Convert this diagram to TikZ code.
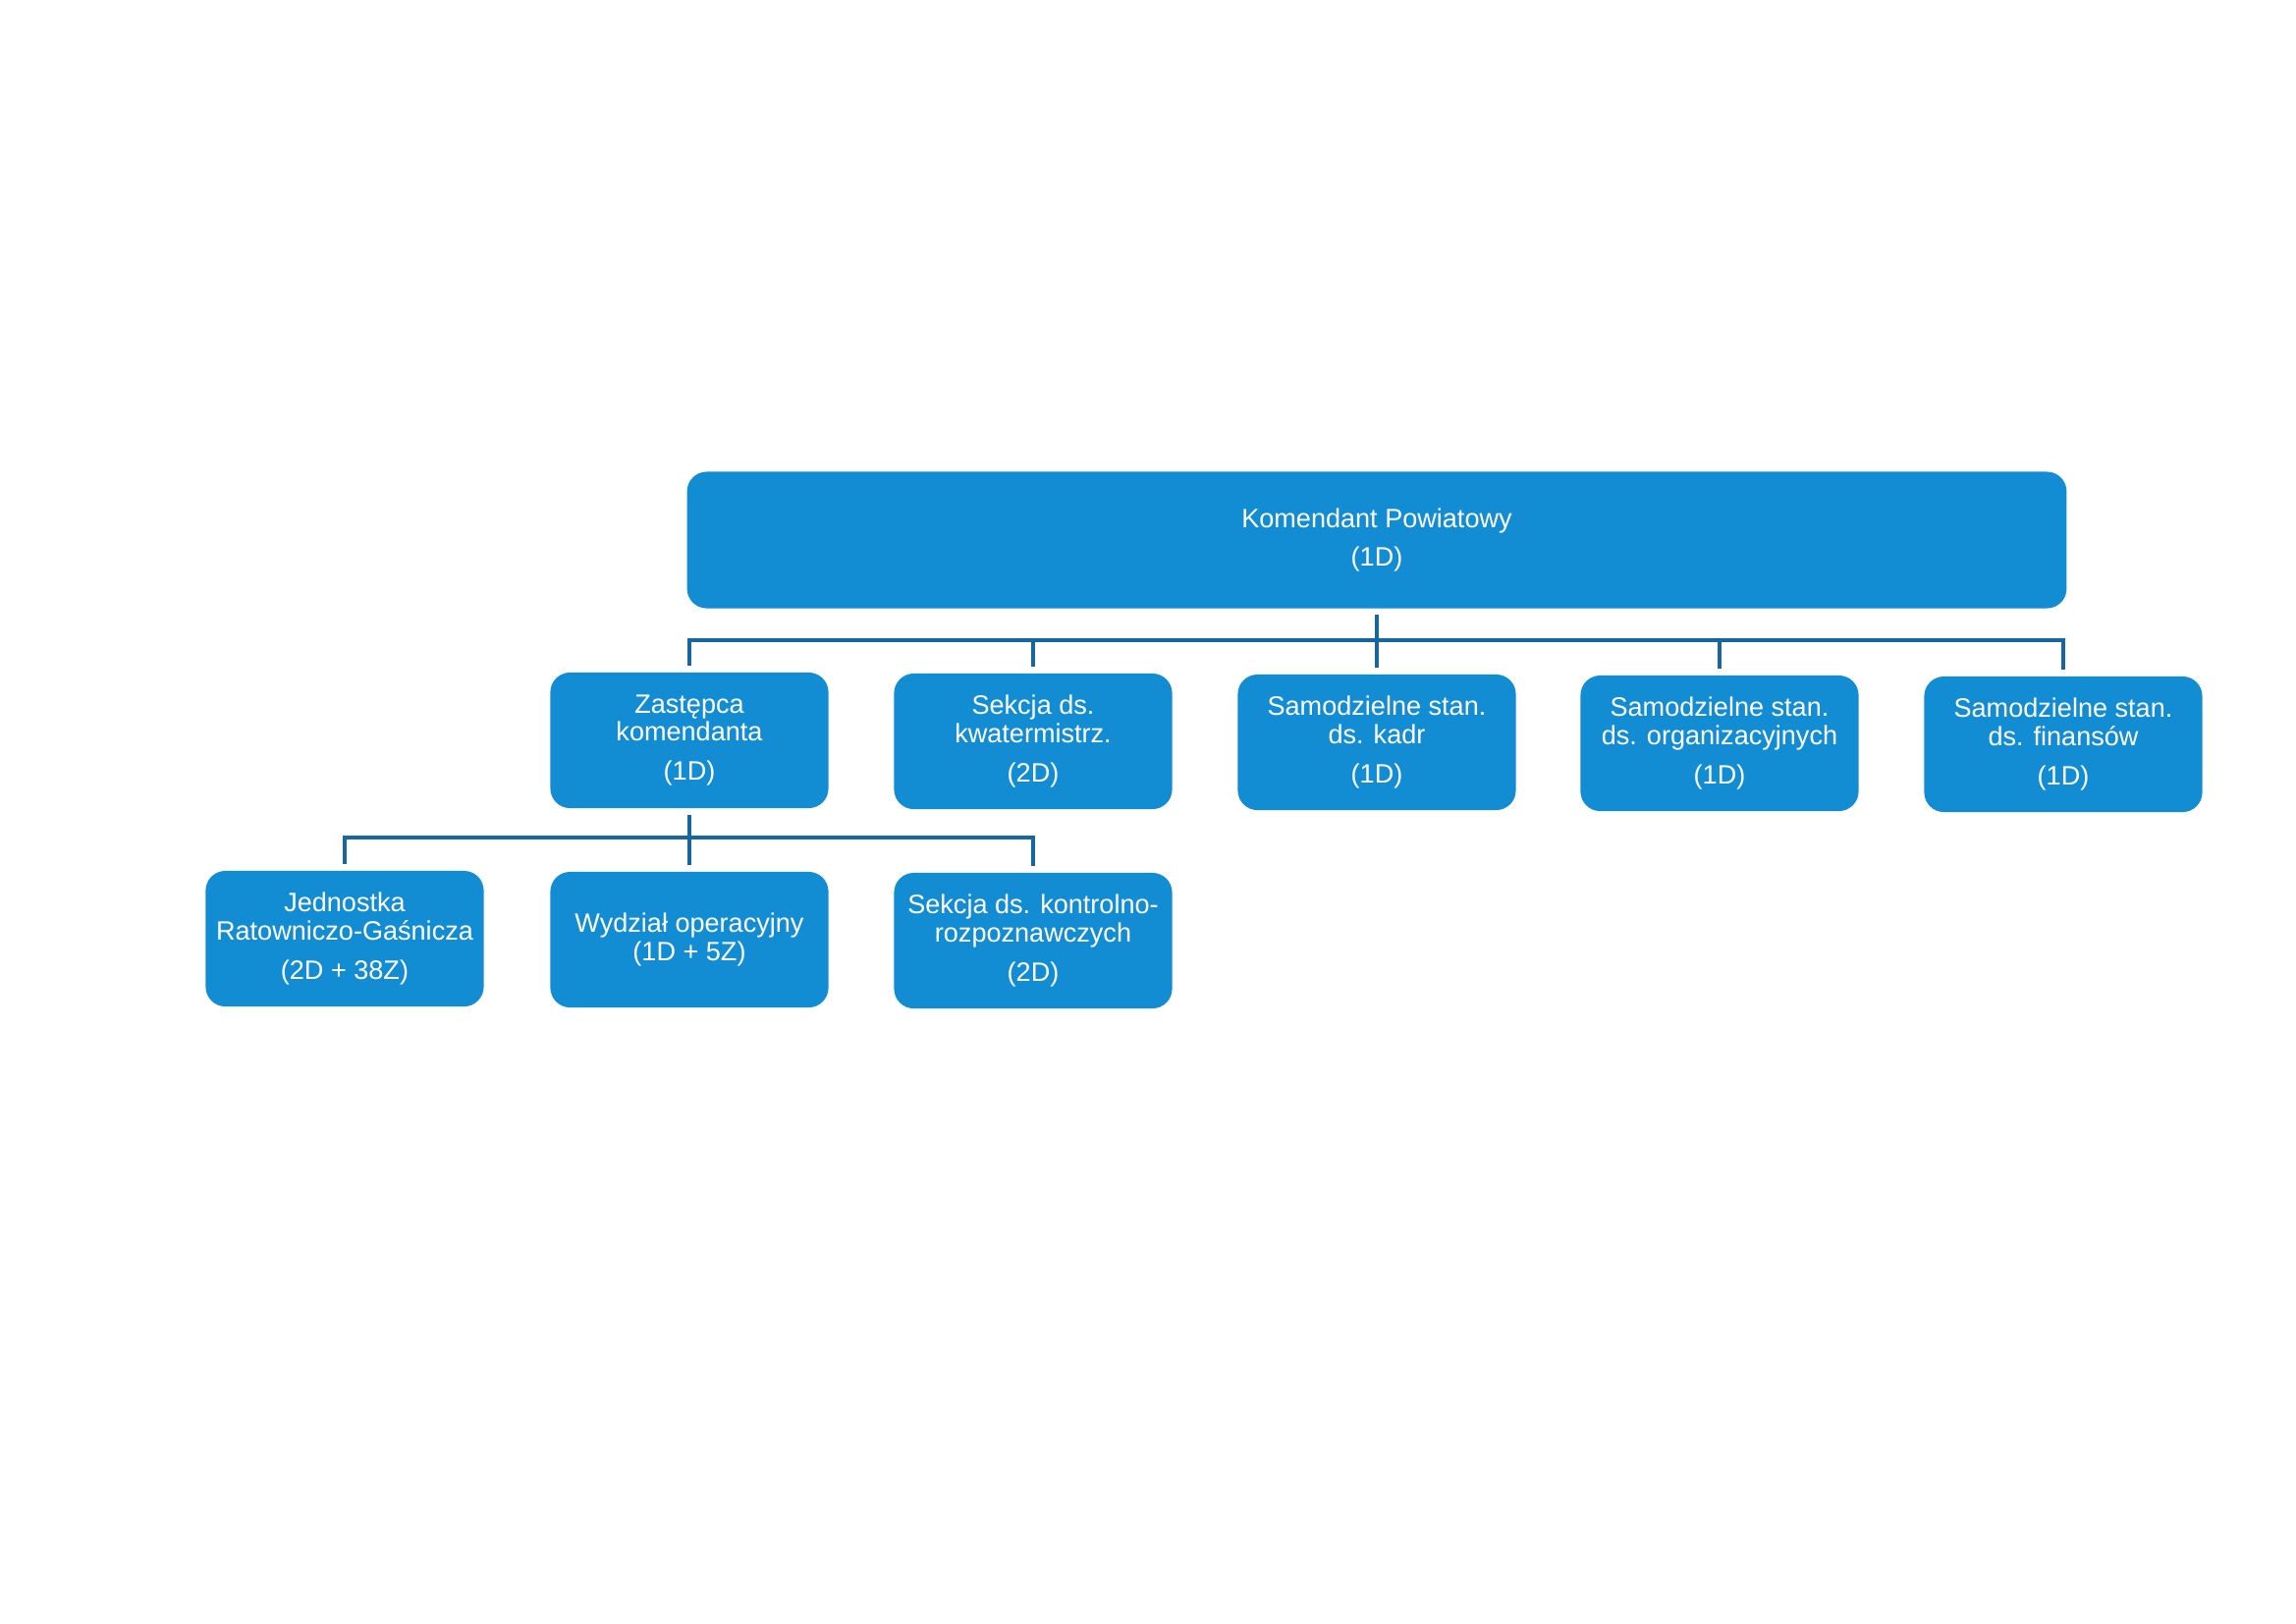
\documentclass[tikz,border=0pt]{standalone}
\usepackage{fontspec}
\setmainfont{Liberation Sans}
\usetikzlibrary{calc}
\definecolor{boxblue}{RGB}{18,140,210}
\definecolor{linkblue}{RGB}{22,102,160}
\tikzset{
  unitbox/.style={rectangle, rounded corners=0.2cm, fill=boxblue, draw=none,
    text=white, align=center, inner sep=0pt,
    font=\fontsize{7.7}{8.1}\selectfont},
  lvbox/.style={unitbox, minimum width=2.83cm, minimum height=1.38cm},
  conn/.style={draw=linkblue, line width=1.4pt},
}
\begin{document}
\begin{tikzpicture}[x=0.01cm, y=-0.01cm]
\useasboundingbox (0,0) rectangle (2338,1653);
% top
\node[unitbox, minimum width=14.04cm, minimum height=1.39cm] (kp) at (1402,550)
  {Komendant Powiatowy\\[3.2pt](1D)};
% level 2
\node[lvbox] (zast) at (702,754) {Zastępca\\komendanta\\[3.4pt](1D)};
\node[lvbox] (kwat) at (1052,755) {Sekcja ds.\\kwatermistrz.\\[3.4pt](2D)};
\node[lvbox] (kadr) at (1402,756) {Samodzielne stan.\\ds. kadr\\[3.4pt](1D)};
\node[lvbox] (org) at (1751,757) {Samodzielne stan.\\ds. organizacyjnych\\[3.4pt](1D)};
\node[lvbox] (fin) at (2101,758) {Samodzielne stan.\\ds. finansów\\[3.4pt](1D)};
% level 3
\node[lvbox] (jrg) at (351,956) {Jednostka\\Ratowniczo-Gaśnicza\\[3.4pt](2D + 38Z)};
\node[lvbox] (wo) at (702,957) {Wydział operacyjny\\(1D + 5Z)};
\node[lvbox] (skr) at (1052,958) {Sekcja ds. kontrolno-\\rozpoznawczych\\[3.4pt](2D)};
% buses
\coordinate (bus) at (1402,652);
\coordinate (bus2) at (702,853);
% connectors level 1 -> 2
\draw[conn, shorten <=0.06cm, shorten >=0.06cm] (zast.north) -- (zast.north |- bus) -| (fin.north);
\draw[conn, shorten >=0.06cm] (kwat.north |- bus) -- (kwat.north);
\draw[conn, shorten >=0.06cm] (org.north |- bus) -- (org.north);
\draw[conn, shorten <=0.06cm, shorten >=0.06cm] (kp.south) -- (kadr.north);
% connectors level 2 -> 3
\draw[conn, shorten <=0.06cm, shorten >=0.06cm] (jrg.north) -- (jrg.north |- bus2) -| (skr.north);
\draw[conn, shorten <=0.06cm, shorten >=0.06cm] (zast.south) -- (wo.north);
\end{tikzpicture}
\end{document}
